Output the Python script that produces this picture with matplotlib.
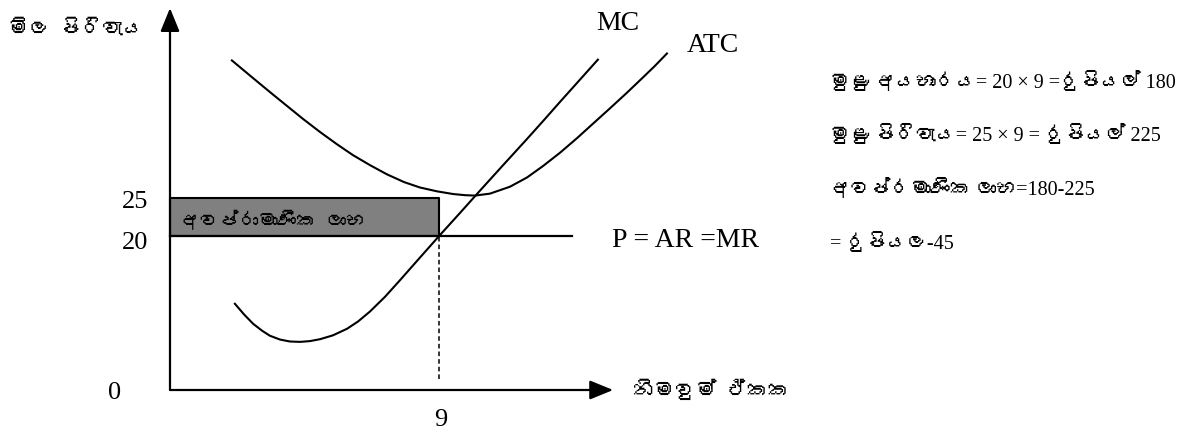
import matplotlib
matplotlib.use('Agg')
import matplotlib.pyplot as plt
from matplotlib import font_manager
from matplotlib.ft2font import FT2Font


def find_sinhala_font():
    # look for any installed font that has Sinhala glyphs
    for f in font_manager.fontManager.ttflist:
        try:
            if 0x0DC3 in FT2Font(f.fname).get_charmap():
                return f.name
        except Exception:
            pass
    return None


sin = find_sinhala_font()
serif = ['Liberation Serif'] + ([sin] if sin else []) + ['DejaVu Sans']
sans = ([sin] if sin else []) + ['DejaVu Sans']

# data
mc_q = [2.17, 2.48, 2.78, 3.08, 3.34, 3.68, 4.01, 4.35, 4.68, 5.02, 5.45, 5.92, 6.29,
        6.69, 7.19, 7.69, 8.36, 9.0, 9.70, 10.37, 11.14, 11.94, 12.54, 13.04, 13.71, 14.31]
mc_cost = [11.2, 9.8, 8.6, 7.7, 7.05, 6.55, 6.3, 6.25, 6.35, 6.6, 7.1, 7.95, 8.9,
           10.2, 12.1, 14.25, 17.2, 20.0, 23.0, 25.9, 29.2, 32.6, 35.2, 37.4, 40.3, 42.9]
atc_q = [2.07, 2.44, 2.78, 3.34, 3.91, 4.45, 5.02, 5.59, 6.12, 6.69, 7.26, 7.83, 8.36,
         8.93, 9.47, 9.87, 10.20, 10.70, 11.37, 11.94, 12.48, 13.04, 13.61, 14.15, 14.72,
         15.28, 15.82, 16.22, 16.62]
atc_cost = [42.8, 41.6, 40.5, 38.7, 36.9, 35.2, 33.5, 31.9, 30.5, 29.2, 28.0, 27.0, 26.3,
            25.8, 25.45, 25.3, 25.25, 25.5, 26.4, 27.6, 29.1, 30.8, 32.7, 34.6, 36.6,
            38.6, 40.6, 42.1, 43.7]
price = 20
atc_at_q = 25
quantity = 9
mr_end = 13.45
price_labels = ['25', '20']
y_label = 'මිල පිරිවැය'
x_label = 'නිමවුම් ඒකක'
box_label = 'අවප්රාමාණික ලාභ'
calc_lines = ['මුළු අයභාරය= 20 × 9 =රුපියල් 180',
              'මුළු පිරිවැය= 25 × 9 = රුපියල් 225',
              'අවප්රමාණික ලාභ=180-225',
              '= රුපියල-45']

W, H = 1189, 434
fig = plt.figure(figsize=(W / 100, H / 100), dpi=100)
ax = fig.add_axes([0, 0, 1, 1])
ax.set_xlim(-170 / 29.9, (W - 170) / 29.9)
ax.set_ylim(-44 / 7.7, 390 / 7.7)
ax.axis('off')

# axes with arrow heads
arr = dict(arrowstyle='-|>,head_length=1.1,head_width=0.45', lw=1.6, color='black',
           shrinkA=0, shrinkB=0, mutation_scale=13)
ax.annotate('', xy=(0, 49.6), xytext=(0, 0), arrowprops=arr)
ax.annotate('', xy=(14.82, 0), xytext=(0, 0), arrowprops=arr)

# loss rectangle
ax.fill_between([0, quantity], price, atc_at_q, facecolor='#808080', edgecolor='black', lw=1.5)
ax.plot([0, mr_end], [price, price], color='black', lw=1.6)
ax.plot([quantity, quantity], [1.4, atc_at_q], color='black', lw=1.1, ls=(0, (3, 2)))

ax.plot(mc_q, mc_cost, color='black', lw=1.5, solid_joinstyle='round')
ax.plot(atc_q, atc_cost, color='black', lw=1.5, solid_joinstyle='round')

# tick labels
ax.annotate(price_labels[0], xy=(0, atc_at_q), xytext=(-22, -5), textcoords='offset pixels',
            ha='right', va='center', fontsize=19, family=serif)
ax.annotate(price_labels[1], xy=(0, price), xytext=(-22, -7), textcoords='offset pixels',
            ha='right', va='center', fontsize=19, family=serif)
ax.annotate('0', xy=(0, 0), xytext=(-55, -3), textcoords='offset pixels',
            ha='center', va='center', fontsize=19, family=serif)
ax.annotate(str(quantity), xy=(quantity, 0), xytext=(2, -30), textcoords='offset pixels',
            ha='center', va='center', fontsize=19, family=serif)


def px(x, y):
    return x / W, 1 - y / H


fig.text(*px(618, 24), 'MC', ha='center', va='center', fontsize=20, family=serif)
fig.text(*px(713, 46), 'ATC', ha='center', va='center', fontsize=20, family=serif)
fig.text(*px(612, 240), 'P = AR =MR', ha='left', va='center', fontsize=20, family=serif)

fig.text(*px(8, 28), y_label, ha='left', va='center', fontsize=15, family=sans)
fig.text(*px(633, 389), x_label, ha='left', va='center', fontsize=15, family=sans)
fig.text(*px(180, 220), box_label, ha='left', va='center', fontsize=14, family=sans)

for i, line in enumerate(calc_lines):
    fig.text(*px(830, [82, 135, 189, 243][i]), line, ha='left', va='center',
             fontsize=14.5, family=serif)

fig.savefig('out.png', dpi=100, facecolor='white')
